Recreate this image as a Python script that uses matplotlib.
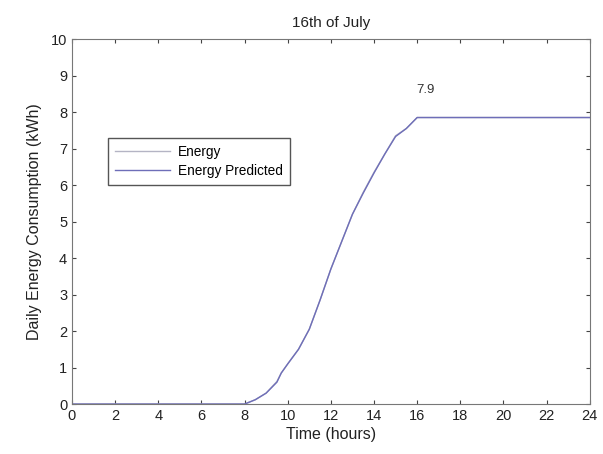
import numpy as np
from matplotlib import pyplot as plt

plt.rcParams['font.family'] = ['Liberation Sans', 'DejaVu Sans']

# Hours of the day and cumulative energy (kWh)
hours = [0, 8, 8.5, 9, 9.5, 9.7, 10, 10.5, 11, 11.5, 12, 12.5, 13, 13.5, 14,
         14.5, 15, 15.5, 16, 16.2, 24]
energy = [0, 0, 0.12, 0.3, 0.62, 0.85, 1.1, 1.5, 2.05, 2.85, 3.7, 4.45, 5.2,
          5.8, 6.35, 6.85, 7.35, 7.55, 7.85, 7.85, 7.85]
energy_pred = [0, 0, 0.12, 0.3, 0.6, 0.85, 1.1, 1.5, 2.05, 2.85, 3.7, 4.45,
               5.2, 5.78, 6.33, 6.85, 7.33, 7.55, 7.85, 7.85, 7.85]
peak_label = '7.9'

fig = plt.figure(figsize=(6.03, 4.54), dpi=100)
ax = fig.add_axes([0.1194, 0.110, 0.8586, 0.804])

ax.plot(hours, energy, color='#b4b4c4', lw=1.0, label='Energy')
ax.plot(hours, energy_pred, color='#6e6eb8', lw=1.0, label='Energy Predicted')
ax.text(16.4, 8.6, peak_label, fontsize=9.5, ha='center', va='center', color='#333333')

ax.set_xlim(0, 24)
ax.set_ylim(0, 10)
ax.set_xticks(np.arange(0, 25, 2))
ax.set_yticks(np.arange(0, 11, 1))
ax.tick_params(direction='in', top=True, right=True, labelsize=10.5, length=3,
               colors='#444444', labelcolor='#222222')
for sp in ax.spines.values():
    sp.set_color('#777777')

ax.set_title('16th of July', fontsize=11, color='#222222', pad=9)
ax.set_xlabel('Time (hours)', fontsize=11.5, color='#222222', labelpad=3)
ax.set_ylabel('Daily Energy Consumption (kWh)', fontsize=11.5, color='#222222', labelpad=6)

leg = ax.legend(loc='upper left', bbox_to_anchor=(0.069, 0.73), fontsize=9.8,
                fancybox=False, edgecolor='#555555', framealpha=1, borderaxespad=0,
                handlelength=4.0, borderpad=0.55, labelspacing=0.35, handletextpad=0.6)
leg.get_frame().set_linewidth(1.0)

fig.savefig('out.png', dpi=100)
